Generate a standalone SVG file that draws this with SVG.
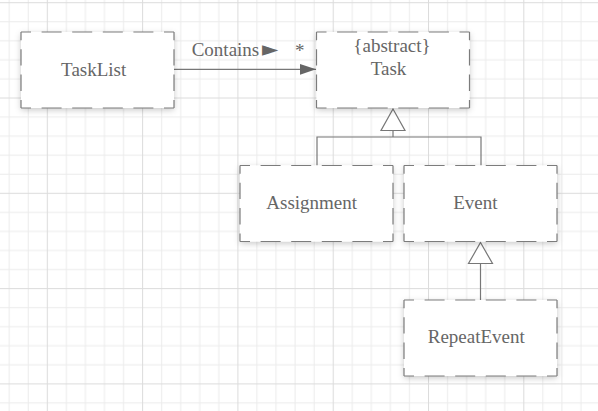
<svg xmlns="http://www.w3.org/2000/svg" width="598" height="411" viewBox="0 0 598 411">
<defs>
<pattern id="grid" patternUnits="userSpaceOnUse" x="46.8" y="192.8" width="95.3" height="95.3">
<rect x="0" y="0" width="95.3" height="95.3" fill="#ffffff"/>
<g fill="#ececec">
<rect x="19.06" y="0" width="1" height="95.3"/>
<rect x="38.12" y="0" width="1" height="95.3"/>
<rect x="57.18" y="0" width="1" height="95.3"/>
<rect x="76.24" y="0" width="1" height="95.3"/>
<rect x="0" y="19.06" width="95.3" height="1"/>
<rect x="0" y="38.12" width="95.3" height="1"/>
<rect x="0" y="57.18" width="95.3" height="1"/>
<rect x="0" y="76.24" width="95.3" height="1"/>
</g>
<g fill="#dcdcdc">
<rect x="0" y="0" width="1" height="95.3"/>
<rect x="0" y="0" width="95.3" height="1"/>
</g>
</pattern>
<filter id="shadow" x="-20%" y="-20%" width="140%" height="150%">
<feDropShadow dx="0" dy="2" stdDeviation="3" flood-color="#000" flood-opacity="0.22"/>
</filter>
<marker id="filled" markerUnits="userSpaceOnUse" markerWidth="16" markerHeight="12" refX="16" refY="6" orient="auto">
<path d="M0,0.6 L16,6 L0,11.4 Z" fill="#666666"/>
</marker>
</defs>
<style>
.bg{fill:#ffffff;filter:url(#shadow)}
.h{fill:none;stroke:#7c7c7c;stroke-width:1.2;stroke-dasharray:20 10.6;stroke-dashoffset:10}
.v{fill:none;stroke:#7c7c7c;stroke-width:1.2;stroke-dasharray:16.4 9;stroke-dashoffset:8.2}
.lbl{font-family:"Liberation Serif","Times New Roman",serif;font-size:19px;fill:#666666;text-anchor:middle}
.conn{fill:none;stroke:#777777;stroke-width:1.2}
.tri{fill:#ffffff;stroke:#777777;stroke-width:1.2}
</style>
<rect x="0" y="0" width="598" height="411" fill="url(#grid)"/>

<g id="connectors">
<path class="conn" d="M174,69.3 H316" marker-end="url(#filled)"/>
<text x="191.7" y="56" style="font-family:'Liberation Serif','Times New Roman',serif;font-size:19px;fill:#666666">Contains<tspan x="262" style="font-family:'DejaVu Sans',sans-serif;font-size:21px">►</tspan></text>
<text x="295" y="57" style="font-family:'Liberation Serif','Times New Roman',serif;font-size:19px;fill:#666666">*</text>
<path class="conn" d="M393,130.5 V137 M317,165.5 V137 H481 V165.5"/>
<path class="tri" d="M393,109 L405,130.5 L381,130.5 Z"/>
<path class="conn" d="M480.5,263.5 V300"/>
<path class="tri" d="M480.5,242.5 L492.5,263.5 L468.5,263.5 Z"/>
</g>

<g id="TaskList">
<rect class="bg" x="21" y="32" width="153" height="76"/>
<path class="h" d="M21,32 H174 M21,108 H174"/>
<path class="v" d="M21,32 V108 M174,32 V108"/>
<text class="lbl" x="93.7" y="75.7">TaskList</text>
</g>

<g id="Task">
<rect class="bg" x="316.5" y="32" width="153" height="76"/>
<path class="h" d="M316.5,32 H469.5 M316.5,108 H469.5"/>
<path class="v" d="M316.5,32 V108 M469.5,32 V108"/>
<text class="lbl" x="392" y="52.3">{abstract}</text>
<text class="lbl" x="388.5" y="75">Task</text>
</g>

<g id="Assignment">
<rect class="bg" x="240" y="165.5" width="153" height="76"/>
<path class="h" d="M240,165.5 H393 M240,241.5 H393"/>
<path class="v" d="M240,165.5 V241.5 M393,165.5 V241.5"/>
<text class="lbl" x="311.7" y="209.3">Assignment</text>
</g>

<g id="Event">
<rect class="bg" x="404" y="165.5" width="153" height="76"/>
<path class="h" d="M404,165.5 H557 M404,241.5 H557"/>
<path class="v" d="M404,165.5 V241.5 M557,165.5 V241.5"/>
<text class="lbl" x="475.3" y="209.3">Event</text>
</g>

<g id="RepeatEvent">
<rect class="bg" x="404" y="300" width="153" height="76"/>
<path class="h" d="M404,300 H557 M404,376 H557"/>
<path class="v" d="M404,300 V376 M557,300 V376"/>
<text class="lbl" x="476.3" y="342.7">RepeatEvent</text>
</g>
</svg>
